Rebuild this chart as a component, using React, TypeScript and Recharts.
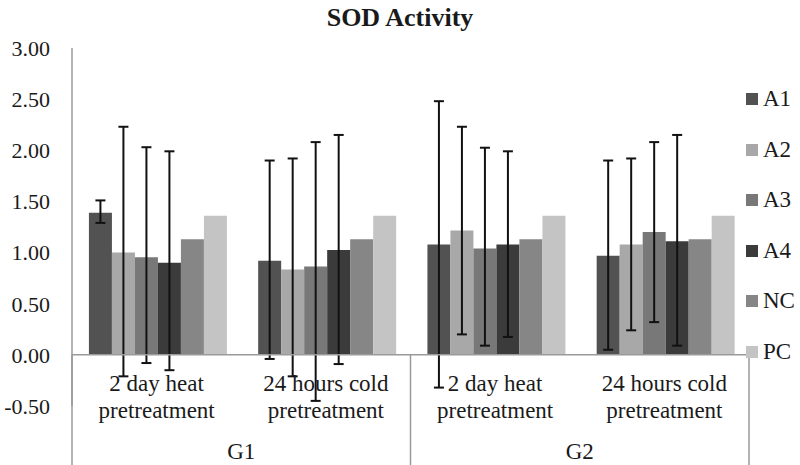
import React from "react";
import { BarChart, Bar, ErrorBar, XAxis, YAxis, ReferenceLine } from "recharts";

// ─── Data ────────────────────────────────────────────────────────────────────

const CATEGORIES = [
  "2 day heat\npretreatment",
  "24 hours cold\npretreatment",
  "2 day heat\npretreatment",
  "24 hours cold\npretreatment",
];
const GROUPS = ["G1", "G1", "G2", "G2"];
const SERIES = ["A1", "A2", "A3", "A4", "NC", "PC"];
const Y_TICKS = [-0.5, 0, 0.5, 1, 1.5, 2, 2.5, 3];

const A1 = [1.39, 0.92, 1.08, 0.97];
const A2 = [1.0, 0.835, 1.215, 1.08];
const A3 = [0.955, 0.865, 1.04, 1.2];
const A4 = [0.9, 1.025, 1.08, 1.11];
const NC = [1.13, 1.13, 1.13, 1.13];
const PC = [1.36, 1.36, 1.36, 1.36];

// error bar ends (top / bottom)
const A1_HIGH = [1.51, 1.9, 2.48, 1.9];
const A1_LOW = [1.29, -0.04, -0.32, 0.05];
const A2_HIGH = [2.23, 1.92, 2.23, 1.92];
const A2_LOW = [-0.21, -0.21, 0.2, 0.24];
const A3_HIGH = [2.03, 2.08, 2.025, 2.08];
const A3_LOW = [-0.08, -0.45, 0.09, 0.32];
const A4_HIGH = [1.99, 2.15, 1.99, 2.15];
const A4_LOW = [-0.15, -0.09, 0.175, 0.09];

const COLORS: Record<string, string> = {
  A1: "#525252",
  A2: "#a8a8a8",
  A3: "#787878",
  A4: "#3b3b3b",
  NC: "#868686",
  PC: "#c4c4c4",
};

// ─── Layout ──────────────────────────────────────────────────────────────────

const W = 800;
const H = 465;
const TOP = 48;
const RIGHT = 51;
const YAXIS_W = 72;
const XAXIS_H = 59;
const PLOT_W = W - YAXIS_W - RIGHT;
const PLOT_BOTTOM = H - XAXIS_H;
const ZERO_Y = TOP + ((PLOT_BOTTOM - TOP) * 3) / 3.5;
const FONT = "'Liberation Serif', 'Times New Roman', serif";
const LINE = "#9a9a9a";

const values: Record<string, number[]> = { A1, A2, A3, A4, NC, PC };
const errs: Record<string, [number[], number[]]> = {
  A1: [A1_LOW, A1_HIGH],
  A2: [A2_LOW, A2_HIGH],
  A3: [A3_LOW, A3_HIGH],
  A4: [A4_LOW, A4_HIGH],
};

const data = CATEGORIES.map((name, i) => {
  const row: any = { id: `${GROUPS[i]} ${name}`, name, group: GROUPS[i] };
  SERIES.forEach((s) => {
    row[s] = values[s][i];
    if (errs[s]) {
      const [lo, hi] = errs[s];
      row[`${s}Err`] = [values[s][i] - lo[i], hi[i] - values[s][i]];
    }
  });
  return row;
});

// ─── Category "table" under the zero line ──────────────────────────────────

function CategoryTick(props: any) {
  const { x, index } = props;
  const [l1, l2] = CATEGORIES[index].split("\n");
  const bw = PLOT_W / CATEGORIES.length;
  const textStyle = { fontFamily: FONT, fontSize: 23, fill: "#1a1a1a" };
  return (
    <g>
      <text x={x} y={ZERO_Y + 36} textAnchor="middle" style={textStyle}>
        {l1}
      </text>
      <text x={x} y={ZERO_Y + 63} textAnchor="middle" style={textStyle}>
        {l2}
      </text>
      {index === 0 && (
        <line x1={x - bw / 2} y1={ZERO_Y} x2={x - bw / 2} y2={H} stroke={LINE} strokeWidth={1.5} />
      )}
      {index % 2 === 1 && (
        <>
          <line x1={x + bw / 2} y1={ZERO_Y} x2={x + bw / 2} y2={H} stroke={LINE} strokeWidth={1.5} />
          <text x={x - bw / 2} y={ZERO_Y + 104} textAnchor="middle" style={textStyle}>
            {GROUPS[index]}
          </text>
        </>
      )}
    </g>
  );
}

export default function App() {
  return (
    <div style={{ position: "absolute", left: 0, top: 0, width: W, height: H, background: "#fff" }}>
      <div
        style={{
          position: "absolute",
          top: 3,
          left: 0,
          width: W,
          textAlign: "center",
          fontFamily: FONT,
          fontWeight: "bold",
          fontSize: 26,
          lineHeight: "30px",
          color: "#1a1a1a",
        }}
      >
        SOD Activity
      </div>

      <BarChart
        width={W}
        height={H}
        data={data}
        margin={{ top: TOP, right: RIGHT, left: 0, bottom: 0 }}
        barCategoryGap="10%"
        barGap={0}
      >
        <XAxis
          dataKey="id"
          height={XAXIS_H}
          axisLine={false}
          tickLine={false}
          interval={0}
          tick={(p: any) => <CategoryTick {...p} />}
        />
        <YAxis
          width={YAXIS_W}
          domain={[-0.5, 3]}
          ticks={Y_TICKS}
          tickFormatter={(v: number) => v.toFixed(2)}
          axisLine={{ stroke: LINE, strokeWidth: 1.5 }}
          tickLine={false}
          tickMargin={16}
          tick={{ fontFamily: FONT, fontSize: 22, fill: "#1a1a1a" }}
        />
        {SERIES.map((s) => (
          <Bar key={s} dataKey={s} fill={COLORS[s]} isAnimationActive={false}>
            {errs[s] && (
              <ErrorBar dataKey={`${s}Err`} stroke="#111" strokeWidth={2} width={5} isAnimationActive={false} />
            )}
          </Bar>
        ))}
        <ReferenceLine y={0} stroke={LINE} strokeWidth={1.5} />
      </BarChart>

      <div style={{ position: "absolute", left: 746, top: 74 }}>
        {SERIES.map((s) => (
          <div key={s} style={{ display: "flex", alignItems: "center", height: 50.5 }}>
            <span style={{ width: 12, height: 12, background: COLORS[s], marginRight: 5 }} />
            <span style={{ fontFamily: FONT, fontSize: 23, color: "#1a1a1a" }}>{s}</span>
          </div>
        ))}
      </div>
    </div>
  );
}
